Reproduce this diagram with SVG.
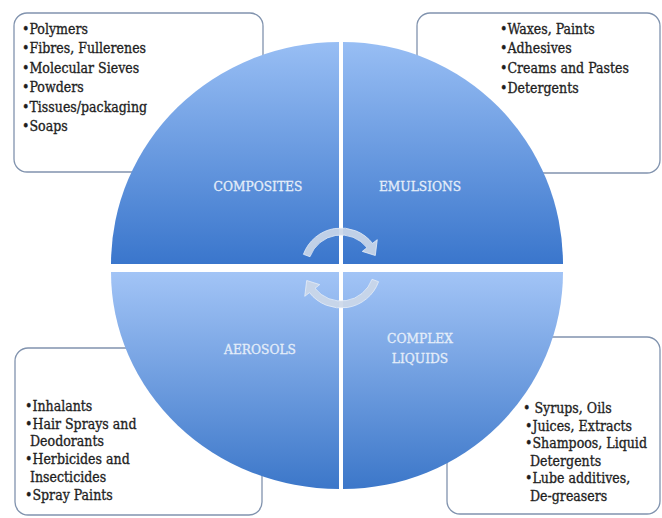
<svg xmlns="http://www.w3.org/2000/svg" width="662" height="518" viewBox="0 0 662 518">
<style>
.box{fill:#ffffff;stroke:#8193ae;stroke-width:1.3}
.lst{font-family:"DejaVu Serif Condensed","DejaVu Serif",serif;font-size:14px;fill:#1e1e1e;stroke:#1e1e1e;stroke-width:0.3}
.lbl{font-family:"DejaVu Serif Condensed","DejaVu Serif",serif;font-size:13.6px;fill:#e4edf9;stroke:#e4edf9;stroke-width:0.3;text-anchor:middle}
.arw{fill:#cbd7e8;fill-opacity:0.92;stroke:#e6edf7;stroke-width:0.8}
</style>
<defs>
<linearGradient id="gTop" x1="0" y1="0" x2="0" y2="1">
<stop offset="0" stop-color="#98bef4"/>
<stop offset="1" stop-color="#3a76cc"/>
</linearGradient>
<linearGradient id="gBot" x1="0" y1="0" x2="0" y2="1">
<stop offset="0" stop-color="#a2c4f6"/>
<stop offset="1" stop-color="#3c77c9"/>
</linearGradient>
</defs>
<rect width="662" height="518" fill="#ffffff"/>
<g id="box-composites">
<rect class="box" x="14" y="13" width="249" height="159" rx="13"/>
<text class="lst" x="22" y="34">•Polymers</text>
<text class="lst" x="22" y="53.4">•Fibres, Fullerenes</text>
<text class="lst" x="22" y="72.8">•Molecular Sieves</text>
<text class="lst" x="22" y="92.2">•Powders</text>
<text class="lst" x="22" y="111.6">•Tissues/packaging</text>
<text class="lst" x="22" y="131">•Soaps</text>
</g>
<g id="box-emulsions">
<rect class="box" x="417" y="13" width="243" height="160" rx="13"/>
<text class="lst" x="500" y="33.5">•Waxes, Paints</text>
<text class="lst" x="500" y="53.2">•Adhesives</text>
<text class="lst" x="500" y="72.9">•Creams and Pastes</text>
<text class="lst" x="500" y="92.6">•Detergents</text>
</g>
<g id="box-aerosols">
<rect class="box" x="15" y="348" width="247" height="167" rx="13"/>
<text class="lst" x="25" y="411">•Inhalants</text>
<text class="lst" x="25" y="428.5">•Hair Sprays and</text>
<text class="lst" x="30" y="446">Deodorants</text>
<text class="lst" x="25" y="464">•Herbicides and</text>
<text class="lst" x="30" y="482">Insecticides</text>
<text class="lst" x="25" y="500">•Spray Paints</text>
</g>
<g id="box-complex-liquids">
<rect class="box" x="447" y="337" width="213" height="177" rx="13"/>
<text class="lst" x="523" y="413">• Syrups, Oils</text>
<text class="lst" x="525" y="430.5">•Juices, Extracts</text>
<text class="lst" x="525" y="448">•Shampoos, Liquid</text>
<text class="lst" x="530" y="465.5">Detergents</text>
<text class="lst" x="525" y="483">•Lube additives,</text>
<text class="lst" x="530" y="500.5">De-greasers</text>
</g>
<g id="q-composites">
<path d="M339,264 H111 A228,222 0 0 1 339,42 Z" fill="url(#gTop)"/>
<text class="lbl" x="258" y="190.5">COMPOSITES</text>
</g>
<g id="q-emulsions">
<path d="M343,264 V42 A220,222 0 0 1 563,264 Z" fill="url(#gTop)"/>
<text class="lbl" x="420" y="190.5">EMULSIONS</text>
</g>
<g id="q-aerosols">
<path d="M339,272 V489 A228,217 0 0 1 111,272 Z" fill="url(#gBot)"/>
<text class="lbl" x="260" y="354">AEROSOLS</text>
</g>
<g id="q-complex-liquids">
<path d="M343,272 H563 A220,217 0 0 1 343,489 Z" fill="url(#gBot)"/>
<text class="lbl" x="420" y="342.5">COMPLEX</text>
<text class="lbl" x="420" y="363">LIQUIDS</text>
</g>
<g id="connectors">
<path class="arw" transform="translate(2 0)" d="M301.41,254.32 A40,40 0 0 1 370.52,243.37 L375.25,239.68 L373.30,255.52 L360.28,251.38 L365.00,247.68 A33,33 0 0 0 307.99,256.71 Z"/>
<path class="arw" transform="translate(2 0) rotate(180 339 268)" d="M301.41,254.32 A40,40 0 0 1 370.52,243.37 L375.25,239.68 L373.30,255.52 L360.28,251.38 L365.00,247.68 A33,33 0 0 0 307.99,256.71 Z"/>
</g>
</svg>
